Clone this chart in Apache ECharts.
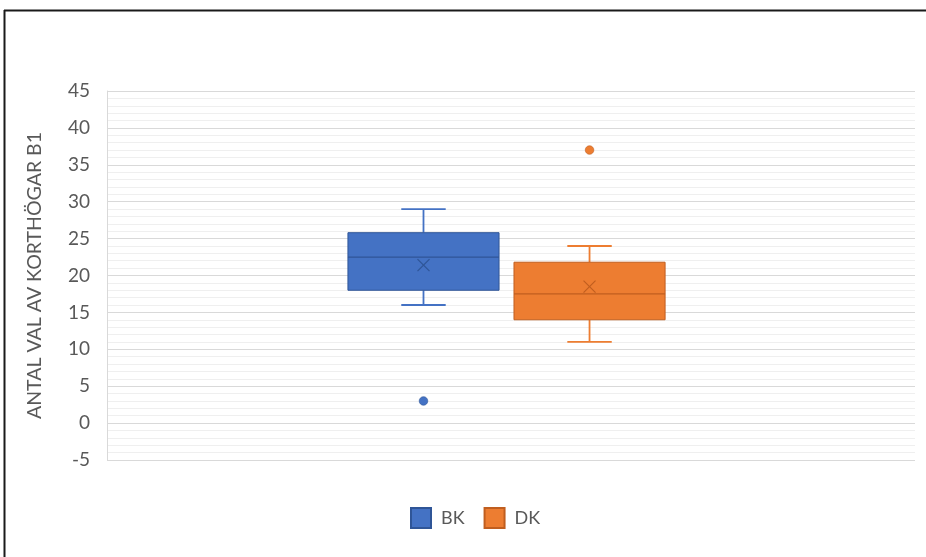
<!DOCTYPE html>
<html>
<head>
<meta charset="utf-8">
<title>Antal val av korthögar B1</title>
<script src="https://cdn.jsdelivr.net/npm/echarts@6/dist/echarts.min.js"></script>
<style>
  html, body { margin: 0; padding: 0; background: #fff; }
  #chart { width: 926px; height: 557px; }
</style>
</head>
<body>
<div id="chart"></div>
<script>
// Groups and their five-number summaries: [min, Q1, median, Q3, max]
const groups = ['BK', 'DK'];
const bkSummary = [16, 18, 22.5, 25.8, 29];
const dkSummary = [11, 14, 17.5, 21.8, 24];
// Means (drawn as an X inside each box)
const bkMean = 21.4;
const dkMean = 18.5;
// Outliers
const bkOutliers = [3];
const dkOutliers = [37];
// Y axis range and ticks
const yMin = -5;
const yMax = 45;
const yStep = 5;

const colors = { BK: '#4472C4', DK: '#ED7D31' };
const edge = { BK: '#2F5597', DK: '#C05E1F' };
// Horizontal placement of each box relative to the category band (fraction of band width)
const bandOffset = { BK: -0.1083, DK: 0.0972 };
const boxFrac = 0.187;
const capFrac = 0.055;

const chart = echarts.init(document.getElementById('chart'));
const font = 'Lato, "Open Sans", sans-serif';

function boxRenderer(name) {
  return function (params, api) {
    const center = api.coord([api.value(0), 0]);
    const bw = api.size([1, 0])[0];
    const cx = center[0] + bw * bandOffset[name];
    const half = bw * boxFrac / 2;
    const cap = bw * capFrac / 2;
    const y = (i) => api.coord([0, api.value(i)])[1];
    const yMinV = y(1), yQ1 = y(2), yMed = y(3), yQ3 = y(4), yMaxV = y(5), yMean = y(6);
    const c = colors[name], e = edge[name];
    const xs = 6;
    return {
      type: 'group',
      children: [
        { type: 'line', shape: { x1: cx, y1: yQ3, x2: cx, y2: yMaxV }, style: { stroke: c, lineWidth: 1.8 } },
        { type: 'line', shape: { x1: cx - cap, y1: yMaxV, x2: cx + cap, y2: yMaxV }, style: { stroke: c, lineWidth: 1.8 } },
        { type: 'line', shape: { x1: cx, y1: yQ1, x2: cx, y2: yMinV }, style: { stroke: c, lineWidth: 1.8 } },
        { type: 'line', shape: { x1: cx - cap, y1: yMinV, x2: cx + cap, y2: yMinV }, style: { stroke: c, lineWidth: 1.8 } },
        { type: 'rect', shape: { x: cx - half, y: yQ3, width: half * 2, height: yQ1 - yQ3 }, style: { fill: c, stroke: e, lineWidth: 1 } },
        { type: 'line', shape: { x1: cx - half, y1: yMed, x2: cx + half, y2: yMed }, style: { stroke: e, lineWidth: 1.2 } },
        { type: 'line', shape: { x1: cx - xs, y1: yMean - xs, x2: cx + xs, y2: yMean + xs }, style: { stroke: e, lineWidth: 1.2 } },
        { type: 'line', shape: { x1: cx - xs, y1: yMean + xs, x2: cx + xs, y2: yMean - xs }, style: { stroke: e, lineWidth: 1.2 } }
      ]
    };
  };
}

function outlierRenderer(name) {
  return function (params, api) {
    const p = api.coord([api.value(0), api.value(1)]);
    const bw = api.size([1, 0])[0];
    return {
      type: 'circle',
      shape: { cx: p[0] + bw * bandOffset[name], cy: p[1], r: 4.3 },
      style: { fill: colors[name], stroke: edge[name], lineWidth: 0.6 }
    };
  };
}

const summaries = { BK: bkSummary, DK: dkSummary };
const means = { BK: bkMean, DK: dkMean };
const outliers = { BK: bkOutliers, DK: dkOutliers };

const series = [];
groups.forEach(function (g) {
  series.push({
    name: g,
    type: 'custom',
    renderItem: boxRenderer(g),
    itemStyle: { color: colors[g], borderColor: edge[g], borderWidth: 0.6 },
    encode: { x: 0, y: [1, 2, 3, 4, 5, 6] },
    data: [[0].concat(summaries[g], [means[g]])],
    z: 3
  });
  series.push({
    name: g,
    type: 'custom',
    renderItem: outlierRenderer(g),
    itemStyle: { color: colors[g] },
    encode: { x: 0, y: 1 },
    data: outliers[g].map(function (v) { return [0, v]; }),
    z: 4
  });
});

chart.setOption({
  animation: false,
  backgroundColor: '#ffffff',
  textStyle: { fontFamily: font },
  graphic: [
    { type: 'line', shape: { x1: 4, y1: 10.5, x2: 926, y2: 10.5 }, style: { stroke: '#1a1a1a', lineWidth: 2 } },
    { type: 'line', shape: { x1: 4.5, y1: 10, x2: 4.5, y2: 557 }, style: { stroke: '#1a1a1a', lineWidth: 2 } }
  ],
  grid: {
    left: 107, right: 11, top: 91, bottom: 97,
    containLabel: false,
    outerBoundsMode: 'none'
  },
  legend: {
    data: groups,
    left: 405,
    top: 502,
    icon: 'rect',
    itemWidth: 20,
    itemHeight: 20,
    itemGap: 19,
    textStyle: { fontFamily: font, fontSize: 18, color: '#595959', padding: [0, 0, 0, 5] }
  },
  xAxis: {
    type: 'category',
    data: [''],
    boundaryGap: true,
    axisLine: { show: false },
    axisTick: { show: false },
    axisLabel: { show: false },
    splitLine: { show: false }
  },
  yAxis: {
    type: 'value',
    min: yMin,
    max: yMax,
    interval: yStep,
    name: 'ANTAL VAL AV KORTHÖGAR B1',
    nameLocation: 'middle',
    nameRotate: 90,
    nameGap: 62,
    nameTextStyle: { fontFamily: font, fontSize: 19.5, color: '#595959' },
    axisLine: { show: true, lineStyle: { color: '#d9d9d9', width: 1 } },
    axisTick: { show: false },
    axisLabel: { fontFamily: font, fontSize: 19, color: '#595959', margin: 17 },
    splitLine: { show: true, lineStyle: { color: '#d9d9d9', width: 1 } },
    minorTick: { show: false, splitNumber: 5 },
    minorSplitLine: { show: true, lineStyle: { color: '#efefef', width: 1 } }
  },
  series: series
});
</script>
</body>
</html>
